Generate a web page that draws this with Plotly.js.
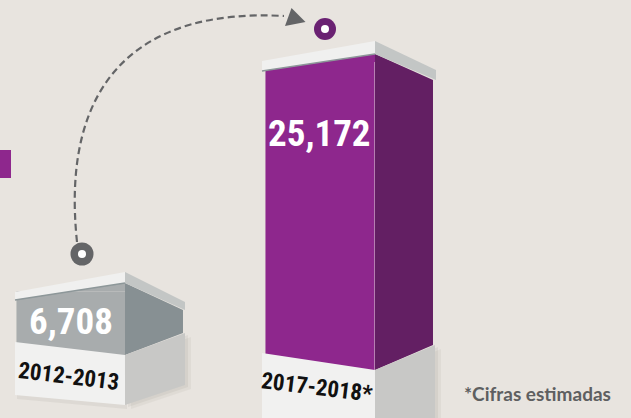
<!DOCTYPE html>
<html><head><meta charset="utf-8">
<script src="https://cdn.plot.ly/plotly-3.0.1.min.js"></script>
<style>html,body{margin:0;padding:0;background:#e8e4df;overflow:hidden}</style>
</head><body><div id="chart" style="width:631px;height:418px"></div>
<script>
// ---- data ----
const periods = ['2012-2013', '2017-2018*'];
const values = [6708, 25172];
const valueLabels = ['6,708', '25,172'];
const footnote = '*Cifras estimadas';

// ---- styles / geometry (pixels) ----
const W = 631, H = 418;
const BG = '#e8e4df';
const xRange = [-0.2851, 2.2490];
const yRange = [-3467, 30161];
const frontColors = ['#a8acad', '#8e278d'];
const sideColors = ['#879093', '#631f63'];
const NARROW = '"Roboto Condensed", "DejaVu Sans Condensed", sans-serif';
// t = relative to bar top centre, b = relative to bar base centre (screen px, y down)
const geom = [
  { capFront: [[-56,0.5],[54,-19.5],[54,-8.5],[-56,8.5]],
    capSide:  [[54,-19.5],[114,10.5],[114,18.5],[54,-8.5]],
    fill:     [[-1,0],[54,-8.5],[54,0]],
    sideTop:  [[54,-8.5],[112,18.5]], sideBot: [[112,-42],[54,-20]],
    pedFront: [[-56,-33],[54,-20],[54,30],[-56,20]],
    pedSide:  [[54,-20],[114,-42],[114,10],[54,30]],
    valShift: -30, catShift: [-2,-2] },
  { capFront: [[-58,-1],[55,-21],[55,-8],[-58,9]],
    capSide:  [[55,-21],[116,8],[116,18],[55,-8]],
    fill:     [[-1,0],[55,-8],[55,0]],
    sideTop:  [[55,-8],[113,18]], sideBot: [[113,-30],[55,-5]],
    pedFront: [[-58,-22],[55,-5],[55,45],[-58,45]],
    pedSide:  [[55,-5],[115,-30],[115,45],[55,45]],
    valShift: -71, catShift: [-3,-13] }
];

const ux = (xRange[1]-xRange[0]) / W;
const uy = (yRange[1]-yRange[0]) / H;
const P = (i, v, d) => [i + d[0]*ux, v - d[1]*uy];
const path = pts => 'M' + pts.map(p => p[0].toFixed(5) + ',' + p[1].toFixed(2)).join('L') + 'Z';
const pp = (x, y) => (x / W).toFixed(5) + ',' + (1 - y / H).toFixed(5);

const shapes = [];
function dshape(d, fill, line) {
  shapes.push({type:'path', xref:'x', yref:'y', layer:'above', path:d,
    fillcolor:fill, line: line || {width:0}});
}
values.forEach((v, i) => {
  const g = geom[i];
  const T = d => P(i, v, d), B = d => P(i, 0, d);
  // soft shadow behind pedestal
  dshape(path(g.pedSide.map(d => B([d[0]+6, d[1]+4]))), 'rgba(90,80,70,0.06)');
  dshape(path(g.pedSide.map(d => B([d[0]+3, d[1]+2]))), 'rgba(90,80,70,0.07)');
  dshape(path(g.pedFront.map(d => B([d[0]+2, d[1]+4]))), 'rgba(90,80,70,0.07)');
  // side face
  dshape(path([T(g.sideTop[0]), T(g.sideTop[1]), B(g.sideBot[0]), B(g.sideBot[1])]), sideColors[i]);
  // fill under the slanted cap
  dshape(path(g.fill.map(T)), frontColors[i]);
  // cap
  dshape(path(g.capSide.map(T)), '#c3c6c5');
  dshape(path(g.capFront.map(T)), '#f0f0ef');
  shapes.push({type:'line', xref:'x', yref:'y', layer:'above',
    x0:T(g.capFront[3])[0], y0:T(g.capFront[3])[1], x1:T(g.capFront[2])[0], y1:T(g.capFront[2])[1],
    line:{color:'#8d9799', width:1.5}});
  // pedestal
  dshape(path(g.pedSide.map(B)), '#c8c8c6');
  dshape(path(g.pedFront.map(B)), '#f1f1f0');
});

// decorations in paper space
shapes.push({type:'rect', xref:'paper', yref:'paper', x0:0, x1:11/W, y0:1-178/H, y1:1-150/H,
  fillcolor:'#8e278d', line:{width:0}, layer:'above'});
shapes.push({type:'path', xref:'paper', yref:'paper', layer:'above',
  path:'M' + pp(77,242) + 'C' + pp(60,80) + ' ' + pp(140,8) + ' ' + pp(284,16),
  line:{color:'#646567', width:2.2, dash:'7px,4px'}});
shapes.push({type:'path', xref:'paper', yref:'paper', layer:'above',
  path:'M' + pp(291.5,8) + 'L' + pp(305.5,22) + 'L' + pp(285,26) + 'Z',
  fillcolor:'#646567', line:{width:0}});
function ring(cx, cy, r, c) {
  [[r, c], [4, '#ffffff']].forEach(([rr, col]) => shapes.push({type:'circle', layer:'above',
    xref:'paper', yref:'paper', xsizemode:'pixel', ysizemode:'pixel',
    xanchor:cx / W, yanchor:1 - cy / H, x0:-rr, x1:rr, y0:-rr, y1:rr,
    fillcolor:col, line:{width:0}}));
}
ring(82, 254, 11.5, '#646567');
ring(325, 29, 11, '#6a2172');

const annotations = [];
values.forEach((v, i) => {
  annotations.push({x:periods[i], y:v, xref:'x', yref:'y', yshift:geom[i].valShift,
    text:valueLabels[i], showarrow:false, font:{family:NARROW, size:37, color:'#ffffff', weight:700}});
  annotations.push({x:periods[i], y:0, xref:'x', yref:'y',
    xshift:geom[i].catShift[0], yshift:geom[i].catShift[1], textangle:7,
    text:periods[i], showarrow:false, font:{family:NARROW, size:23, color:'#111111', weight:700}});
});
annotations.push({xref:'paper', yref:'paper', x:462/W, y:1-393/H, xanchor:'left', yanchor:'middle',
  text:footnote, showarrow:false, font:{family:'Lato, "Open Sans", sans-serif', size:19, color:'#5e5f61', weight:700}});

const trace = {type:'bar', x:periods, y:values, width:0.438,
  marker:{color:frontColors, line:{width:0}}, hoverinfo:'skip', textposition:'none'};

Plotly.newPlot('chart', [trace], {
  width:W, height:H, margin:{l:0, r:0, t:0, b:0},
  paper_bgcolor:BG, plot_bgcolor:BG, showlegend:false,
  xaxis:{type:'category', range:xRange, visible:false, fixedrange:true},
  yaxis:{range:yRange, visible:false, fixedrange:true},
  shapes:shapes, annotations:annotations
}, {staticPlot:true, displayModeBar:false});
</script></body></html>
